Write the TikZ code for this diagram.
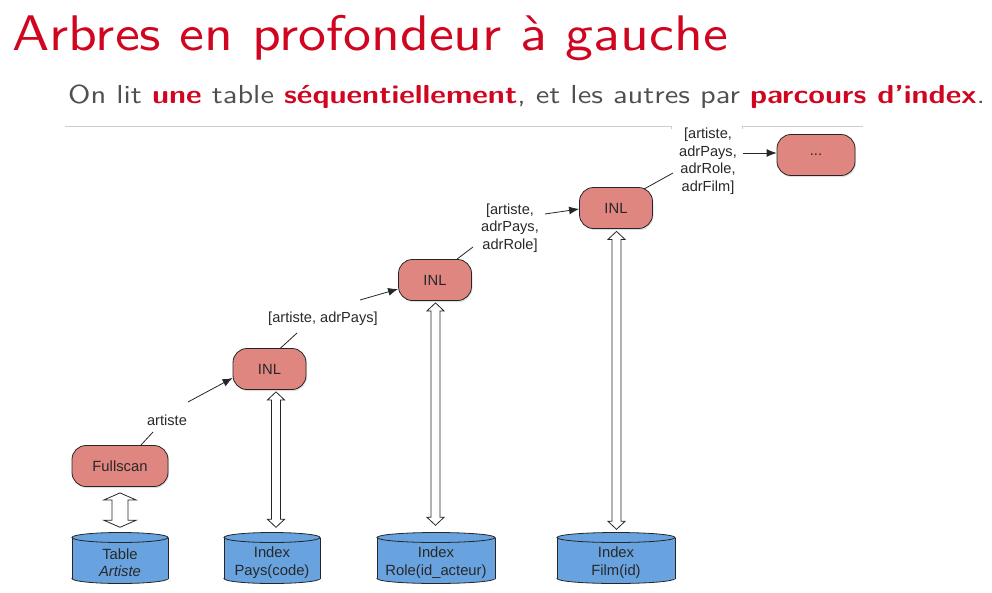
\documentclass[tikz,border=0pt]{standalone}
\usepackage{fontspec}
\usepackage{graphicx}
\setmainfont{Liberation Sans}
\newfontfamily\lmsten[Extension=.otf, BoldFont=lmsans10-bold, ItalicFont=lmsans10-oblique, Ligatures=TeX]{lmsans10-regular}
\usetikzlibrary{calc,arrows.meta,shadows}
\definecolor{titlered}{RGB}{208,6,32}
\definecolor{subgray}{RGB}{80,80,80}
\definecolor{procfill}{RGB}{224,134,129}
\definecolor{cylfill}{RGB}{104,163,224}
\definecolor{txt}{RGB}{40,40,40}
\definecolor{rule}{RGB}{205,205,205}
\newcommand\alrt[1]{\textcolor{titlered}{\textbf{#1}}}
\tikzset{
  proc/.style={rectangle, rounded corners=14pt, draw=black!85, line width=0.8pt,
    fill=procfill, minimum height=41pt, text=txt, inner sep=0pt,
    font=\fontsize{14.8}{17}\selectfont,
    drop shadow={opacity=0.25, shadow xshift=1pt, shadow yshift=-1.5pt}},
  lbl/.style={text=txt, align=center, inner sep=1pt, font=\fontsize{14.6}{17.5}\selectfont},
  cyltext/.style={text=txt, align=center, inner sep=0pt, font=\fontsize{14.8}{17.5}\selectfont},
  cylline/.style={draw=black!85, line width=0.8pt},
  conn/.style={draw=black!85, line width=0.8pt},
  arr/.style={conn, -{Latex[length=10pt,width=8pt]}},
  hollowarrow/.style={draw=black!85, line width=0.8pt, fill=white}
}
% name, cx, cy, half width, half height, text
\newcommand\dbcyl[6]{%
  \fill[cylfill, drop shadow={opacity=0.2, shadow xshift=1pt, shadow yshift=-1.5pt}]
    (#2-#4,#3-#5+5) rectangle (#2+#4,#3+#5-5);
  \draw[cylline, fill=cylfill] (#2,#3+#5-5) ellipse [x radius=#4, y radius=5];
  \fill[cylfill] (#2-#4,#3-#5+5) rectangle (#2+#4,#3+#5-5);
  \draw[cylline] (#2-#4,#3-#5+5) -- (#2-#4,#3+#5-5) (#2+#4,#3-#5+5) -- (#2+#4,#3+#5-5);
  \draw[cylline, fill=cylfill] (#2,#3-#5+5) ellipse [x radius=#4, y radius=5];
  \node[cyltext, minimum width=2*#4, minimum height=2*#5] (#1) at (#2,#3) {};
  \node[cyltext] at (#2,#3+4.5) {#6};
}
% top coord, bottom coord, shaft half, head half, head length
\newcommand\hollow[5]{%
  \draw[hollowarrow] let \p1=(#1), \p2=(#2) in
    (\x1,\y1) -- (\x1+#4pt,\y1-#5pt) -- (\x1+#3pt,\y1-#5pt) -- (\x1+#3pt,\y2+#5pt)
    -- (\x1+#4pt,\y2+#5pt) -- (\x1,\y2) -- (\x1-#4pt,\y2+#5pt) -- (\x1-#3pt,\y2+#5pt)
    -- (\x1-#3pt,\y1-#5pt) -- (\x1-#4pt,\y1-#5pt) -- cycle;
}
\begin{document}
\begin{tikzpicture}[x=1pt,y=-1pt]
\useasboundingbox (0,0) rectangle (992,592);

% header
\node[anchor=base west, inner sep=0pt, text=titlered,
  font=\lmsten\fontsize{50}{60}\selectfont] (title) at (12,50)
  {\scalebox{1.117}[1]{Arbres en profondeur à gauche}};
\node[anchor=base west, inner sep=0pt, text=subgray,
  font=\lmsten\fontsize{26}{30}\selectfont] (sub) at (68,103)
  {\scalebox{1.17}[1]{On lit \alrt{une} table \alrt{séquentiellement}, et les autres par \alrt{parcours d'index}.}};
\draw[rule, line width=1pt] (65,126) -- (671,126) -- (671,129);
\draw[rule, line width=1pt] (742,129) -- (742,126) -- (863,126);

% operators
\node[proc, minimum width=96pt] (full) at (120,466) {Fullscan};
\node[proc, minimum width=73pt] (inl1) at (269.5,369) {INL};
\node[proc, minimum width=73pt] (inl2) at (435,280) {INL};
\node[proc, minimum width=73pt] (inl3) at (616,208) {INL};
\node[proc, minimum width=78pt] (dots) at (816,155) {...};

% data
\dbcyl{tab}{120}{558}{48}{25.5}{Table\\\textit{Artiste}}
\dbcyl{pays}{272}{558}{48}{25.5}{Index\\Pays(code)}
\dbcyl{role}{436}{558}{59}{25.5}{Index\\Role(id\_acteur)}
\dbcyl{film}{616}{558}{59}{25.5}{Index\\Film(id)}

% labels
\node[lbl] (l1) at (167,420) {artiste};
\node[lbl] (l2) at (323,319) {[artiste, adrPays]};
\node[lbl] (l3) at (510,228) {[artiste,\\adrPays,\\adrRole]};
\node[lbl] (l4) at (708,161) {[artiste,\\adrPays,\\adrRole,\\adrFilm]};

% connectors
\draw[conn] (full.45) -- ($(l1.center)+(-14,12)$);
\draw[arr] ($(l1.center)+(21,-18)$) -- ($(inl1.west)+(0,9)$);
\draw[conn] ($(inl1.north)+(11,0)$) -- ($(l2.center)+(-26,14)$);
\draw[arr] ($(l2.center)+(37,-19)$) -- ($(inl2.west)+(0,9)$);
\draw[conn] ($(inl2.north)+(22,0)$) -- ($(l3.center)+(-37,19)$);
\draw[arr] ($(l3.center)+(35,-14)$) -- ($(inl3.west)+(0,1)$);
\draw[conn] ($(inl3.north east)+(-9,2)$) -- ($(l4.center)+(-35,12)$);
\draw[arr] ($(l4.center)+(35,-8)$) -- ($(dots.west)+(0,-2)$);

% access arrows
\hollow{$(full.south)+(0,6)$}{$(tab.north)+(0,-5)$}{8}{16}{7}
\hollow{$(inl1.south)+(6.5,2)$}{$(pays.north)+(0,-5)$}{4.5}{8.5}{8}
\hollow{$(inl2.south)+(0.5,2)$}{$(role.north)+(0,-7)$}{4.5}{8.5}{8}
\hollow{$(inl3.south)+(0.5,2.5)$}{$(film.north)+(0,-3)$}{4.5}{8.5}{8}
\end{tikzpicture}
\end{document}
